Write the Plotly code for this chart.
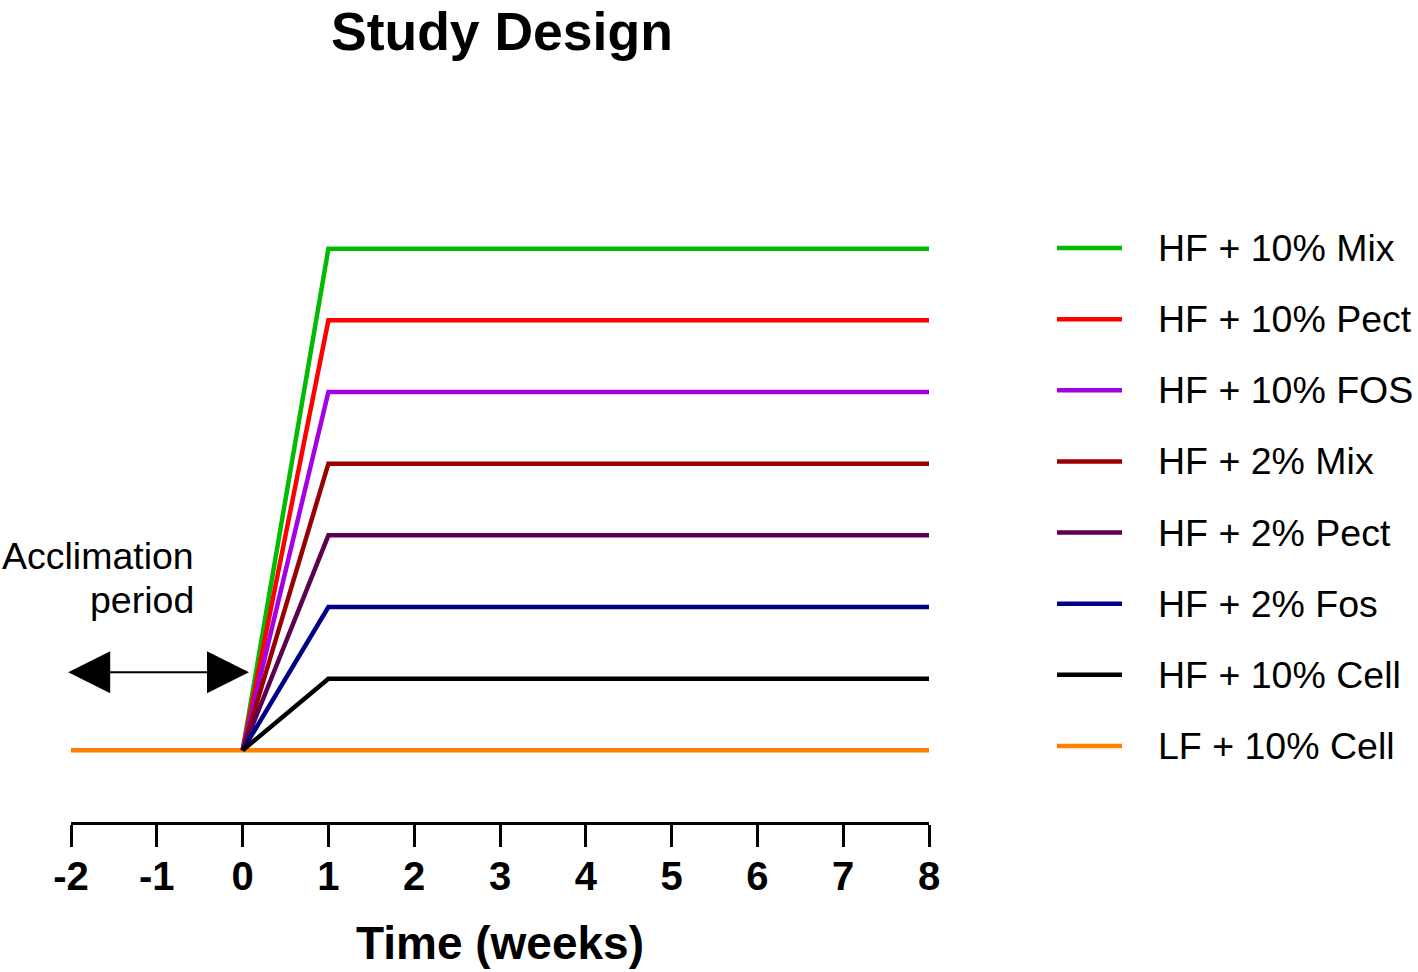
import plotly.graph_objects as go

# Study groups, top to bottom
groups = ["HF + 10% Mix", "HF + 10% Pect", "HF + 10% FOS", "HF + 2% Mix",
          "HF + 2% Pect", "HF + 2% Fos", "HF + 10% Cell", "LF + 10% Cell"]
colors = ["#00BB00", "#FF0000", "#A400E4", "#9A0000",
          "#5C0052", "#000088", "#000000", "#FF8000"]
levels = [7, 6, 5, 4, 3, 2, 1, 0]   # plateau height of each line (arbitrary units)

hf_weeks = [0, 1, 8]        # HF diets: start at week 0, plateau from week 1
lf_weeks = [-2, 8]          # LF control runs the whole time
tick_weeks = [-2, -1, 0, 1, 2, 3, 4, 5, 6, 7, 8]
tick_labels = ["-2", "-1", "0", "1", "2", "3", "4", "5", "6", "7", "8"]

# acclimation arrow spans week -2 to week 0
accl_start, accl_end, accl_level = -2.05, 0.075, 1.09

font = "Liberation Sans, Arial, sans-serif"

fig = go.Figure()

# orange baseline first so the HF lines sit on top of it
for name, col, lev in zip(groups, colors, levels):
    if name.startswith("LF"):
        fig.add_trace(go.Scatter(x=lf_weeks, y=[lev] * len(lf_weeks), mode="lines",
                                 line=dict(color=col, width=4.5), showlegend=False,
                                 cliponaxis=False))
for name, col, lev in zip(groups, colors, levels):
    if name.startswith("HF"):
        fig.add_trace(go.Scatter(x=hf_weeks, y=[0, lev, lev], mode="lines",
                                 line=dict(color=col, width=4.5), showlegend=False,
                                 cliponaxis=False))

# hand-made legend on its own little axis pair
legend_rows = list(range(len(groups)))[::-1]
for name, col, row in zip(groups, colors, legend_rows):
    fig.add_trace(go.Scatter(x=[0, 1], y=[row, row], mode="lines", xaxis="x2", yaxis="y2",
                             line=dict(color=col, width=4.5), showlegend=False,
                             cliponaxis=False))
    fig.add_annotation(x=1, y=row, xref="x2", yref="y2", text=name, showarrow=False,
                       xanchor="left", yanchor="middle", xshift=34,
                       font=dict(family=font, size=37.5, color="black"))

# acclimation period label + double arrow
fig.add_annotation(x=-0.545, y=2.71, xref="x", yref="y", text="Acclimation", showarrow=False,
                   xanchor="right", yanchor="middle",
                   font=dict(family=font, size=37.5, color="black"))
fig.add_annotation(x=-0.545, y=2.10, xref="x", yref="y", text="period", showarrow=False,
                   xanchor="right", yanchor="middle",
                   font=dict(family=font, size=37.5, color="black"))
fig.add_annotation(x=accl_end, y=accl_level, ax=accl_start, ay=accl_level,
                   xref="x", yref="y", axref="x", ayref="y", text="",
                   showarrow=True, arrowside="end+start",
                   arrowhead=2, startarrowhead=2, arrowsize=4.2, startarrowsize=4.2,
                   arrowwidth=2, arrowcolor="black", standoff=0, startstandoff=0)

# title
fig.add_annotation(x=0.3196, y=1.225, xref="paper", yref="paper", text="<b>Study Design</b>",
                   showarrow=False, xanchor="center", yanchor="middle",
                   font=dict(family=font, size=53.5, color="black"))

fig.update_layout(
    width=1418, height=972,
    margin=dict(l=71, r=0, t=177, b=150),
    plot_bgcolor="white", paper_bgcolor="white",
    font=dict(family=font, color="black"),
    xaxis=dict(domain=[0, 0.63697], range=[-2, 8], tickvals=tick_weeks, ticktext=tick_labels,
               showgrid=False, zeroline=False, automargin=False,
               showline=True, linewidth=3, linecolor="black",
               ticks="outside", ticklen=22, tickwidth=3, tickcolor="black",
               tickfont=dict(family=font, size=40, color="black", weight="bold"),
               ticklabelstandoff=-5,
               title=dict(text="Time (weeks)", standoff=30,
                          font=dict(family=font, size=46, color="black", weight="bold"))),
    yaxis=dict(range=[-1, 8], visible=False),
    xaxis2=dict(domain=[0.7320, 0.78025], range=[0, 1], anchor="y2", visible=False),
    yaxis2=dict(range=[-1.07, 8.0], anchor="x2", visible=False, overlaying="y"),
)

fig.write_html("out.html", config={"displayModeBar": False},
               post_script="document.body.style.margin='0';")
